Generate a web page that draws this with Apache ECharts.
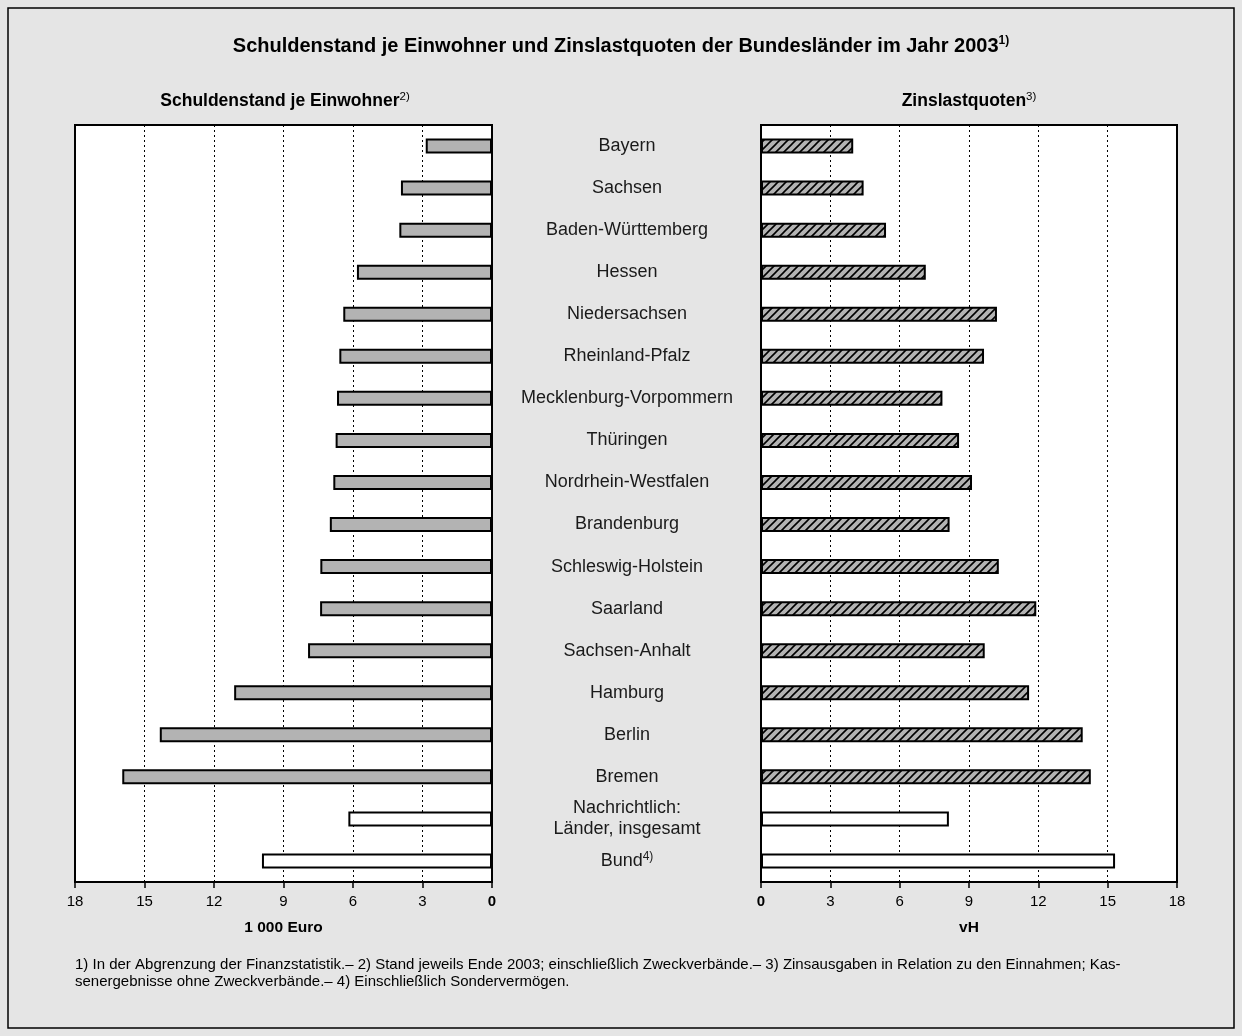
<!DOCTYPE html>
<html>
<head>
<meta charset="utf-8">
<script src="https://cdn.jsdelivr.net/npm/echarts@6/dist/echarts.min.js"></script>
<style>
  html, body { margin: 0; padding: 0; background: #fff; }
  #chart { width: 1242px; height: 1036px; }
</style>
</head>
<body>
<div id="chart"></div>
<script>
// Schuldenstand je Einwohner (1 000 Euro) und Zinslastquoten (vH), 2003

const laender = [
    'Bayern', 'Sachsen', 'Baden-Württemberg', 'Hessen', 'Niedersachsen',
    'Rheinland-Pfalz', 'Mecklenburg-Vorpommern', 'Thüringen', 'Nordrhein-Westfalen',
    'Brandenburg', 'Schleswig-Holstein', 'Saarland', 'Sachsen-Anhalt', 'Hamburg',
    'Berlin', 'Bremen', 'Nachrichtlich:\nLänder, insgesamt', 'Bund'
];
const schulden = [2.86, 3.93, 4.0, 5.83, 6.42, 6.59, 6.69, 6.75, 6.85, 7.0, 7.41, 7.42, 7.94, 11.13, 14.34, 15.96, 6.2, 9.93];
const zinslast = [3.99, 4.44, 5.41, 7.13, 10.21, 9.65, 7.85, 8.57, 9.13, 8.16, 10.29, 11.91, 9.68, 11.6, 13.92, 14.27, 8.13, 15.32];
const summaryRows = ['Nachrichtlich:\nLänder, insgesamt', 'Bund'];

const FONT = '"Liberation Sans", Arial, Helvetica, sans-serif';

// diagonal hatch for the Zinslastquoten bars
function hatchPattern() {
    const c = document.createElement('canvas');
    c.width = 8; c.height = 8;
    const ctx = c.getContext('2d');
    ctx.fillStyle = '#b3b3b3';
    ctx.fillRect(0, 0, 8, 8);
    ctx.strokeStyle = '#000';
    ctx.lineWidth = 1.6;
    ctx.beginPath();
    ctx.moveTo(-2, 10); ctx.lineTo(10, -2);
    ctx.moveTo(-2, 2); ctx.lineTo(2, -2);
    ctx.moveTo(6, 10); ctx.lineTo(10, 6);
    ctx.stroke();
    return { image: c, repeat: 'repeat' };
}

const chart = echarts.init(document.getElementById('chart'));

const valueAxis = (gridIndex, inverse) => ({
    type: 'value',
    gridIndex: gridIndex,
    min: 0,
    max: 18,
    interval: 3,
    inverse: inverse,
    name: inverse ? '1 000 Euro' : 'vH',
    nameLocation: 'middle',
    nameGap: 38,
    nameTextStyle: { fontFamily: FONT, fontSize: 15.5, fontWeight: 'bold', color: '#000' },
    axisLine: { show: true, lineStyle: { color: '#000', width: 2 } },
    axisTick: { show: true, length: 6, lineStyle: { color: '#000', width: 1.5 } },
    axisLabel: {
        margin: 12,
        fontFamily: FONT,
        fontSize: 15,
        color: '#000',
        formatter: v => v === 0 ? '{b|0}' : String(v),
        rich: { b: { fontFamily: FONT, fontSize: 15, fontWeight: 'bold', color: '#000' } }
    },
    splitLine: { show: true, lineStyle: { color: '#000', type: [2, 3], width: 1 } }
});

const catAxis = (gridIndex, showLabels) => ({
    type: 'category',
    gridIndex: gridIndex,
    data: laender,
    inverse: true,
    position: gridIndex === 0 ? 'right' : 'left',
    axisLine: { show: false },
    axisTick: { show: false },
    splitLine: { show: false },
    axisLabel: {
        show: showLabels,
        margin: 135,
        align: 'center',
        fontFamily: FONT,
        fontSize: 18,
        lineHeight: 21,
        color: '#1a1a1a',
        formatter: v => v === 'Bund' ? '{n|Bund}{s|4)}' : v,
        rich: {
            n: { fontFamily: FONT, fontSize: 18, lineHeight: 21, color: '#1a1a1a' },
            s: { fontFamily: FONT, fontSize: 12, lineHeight: 21, color: '#1a1a1a', padding: [0, 0, 8, 0] }
        }
    }
});

const plainFill = '#b3b3b3';
const hatch = hatchPattern();

const option = {
    backgroundColor: '#e5e5e5',
    animation: false,
    textStyle: { fontFamily: FONT },
    title: {
        text: '{t|Schuldenstand je Einwohner und Zinslastquoten der Bundesländer im Jahr 2003}{s|1)}',
        left: 'center',
        top: 28,
        textStyle: {
            rich: {
                t: { fontFamily: FONT, fontSize: 20, fontWeight: 'bold', color: '#000', lineHeight: 26 },
                s: { fontFamily: FONT, fontSize: 12, color: '#000', lineHeight: 26, padding: [0, 0, 11, 0] }
            }
        }
    },
    grid: [
        { left: 75, right: 750, top: 125, bottom: 154, show: true, backgroundColor: '#fff', borderColor: '#000', borderWidth: 2 },
        { left: 761, right: 65, top: 125, bottom: 154, show: true, backgroundColor: '#fff', borderColor: '#000', borderWidth: 2 }
    ],
    xAxis: [valueAxis(0, true), valueAxis(1, false)],
    yAxis: [catAxis(0, true), catAxis(1, false)],
    series: [
        {
            type: 'bar',
            xAxisIndex: 0,
            yAxisIndex: 0,
            barWidth: 15,
            data: schulden.map((v, i) => ({
                value: v,
                itemStyle: { color: summaryRows.includes(laender[i]) ? '#fff' : plainFill }
            })),
            itemStyle: { borderColor: '#000', borderWidth: 2 }
        },
        {
            type: 'bar',
            xAxisIndex: 1,
            yAxisIndex: 1,
            barWidth: 15,
            data: zinslast.map((v, i) => ({
                value: v,
                itemStyle: { color: summaryRows.includes(laender[i]) ? '#fff' : hatch }
            })),
            itemStyle: { borderColor: '#000', borderWidth: 2 }
        }
    ],
    graphic: [
        {
            type: 'rect',
            shape: { x: 8, y: 8, width: 1226, height: 1020 },
            style: { fill: 'none', stroke: '#000', lineWidth: 1.5 },
            silent: true
        },
        {
            type: 'text',
            x: 285,
            y: 101,
            style: {
                text: '{t|Schuldenstand je Einwohner}{s|2)}',
                align: 'center',
                verticalAlign: 'middle',
                rich: {
                    t: { fontFamily: FONT, fontSize: 17.5, fontWeight: 'bold', fill: '#000', lineHeight: 22 },
                    s: { fontFamily: FONT, fontSize: 11.5, fill: '#000', lineHeight: 22, padding: [0, 0, 9, 0] }
                }
            }
        },
        {
            type: 'text',
            x: 969,
            y: 101,
            style: {
                text: '{t|Zinslastquoten}{s|3)}',
                align: 'center',
                verticalAlign: 'middle',
                rich: {
                    t: { fontFamily: FONT, fontSize: 17.5, fontWeight: 'bold', fill: '#000', lineHeight: 22 },
                    s: { fontFamily: FONT, fontSize: 11.5, fill: '#000', lineHeight: 22, padding: [0, 0, 9, 0] }
                }
            }
        },
        {
            type: 'text',
            x: 75,
            y: 956,
            style: {
                text: '1) In der Abgrenzung der Finanzstatistik.– 2) Stand jeweils Ende 2003; einschließlich Zweckverbände.– 3) Zinsausgaben in Relation zu den Einnahmen; Kas-\nsenergebnisse ohne Zweckverbände.– 4) Einschließlich Sondervermögen.',
                font: '15px ' + FONT,
                fill: '#000',
                lineHeight: 17
            }
        }
    ]
};

chart.setOption(option);
window.addEventListener('resize', () => chart.resize());
</script>
</body>
</html>
